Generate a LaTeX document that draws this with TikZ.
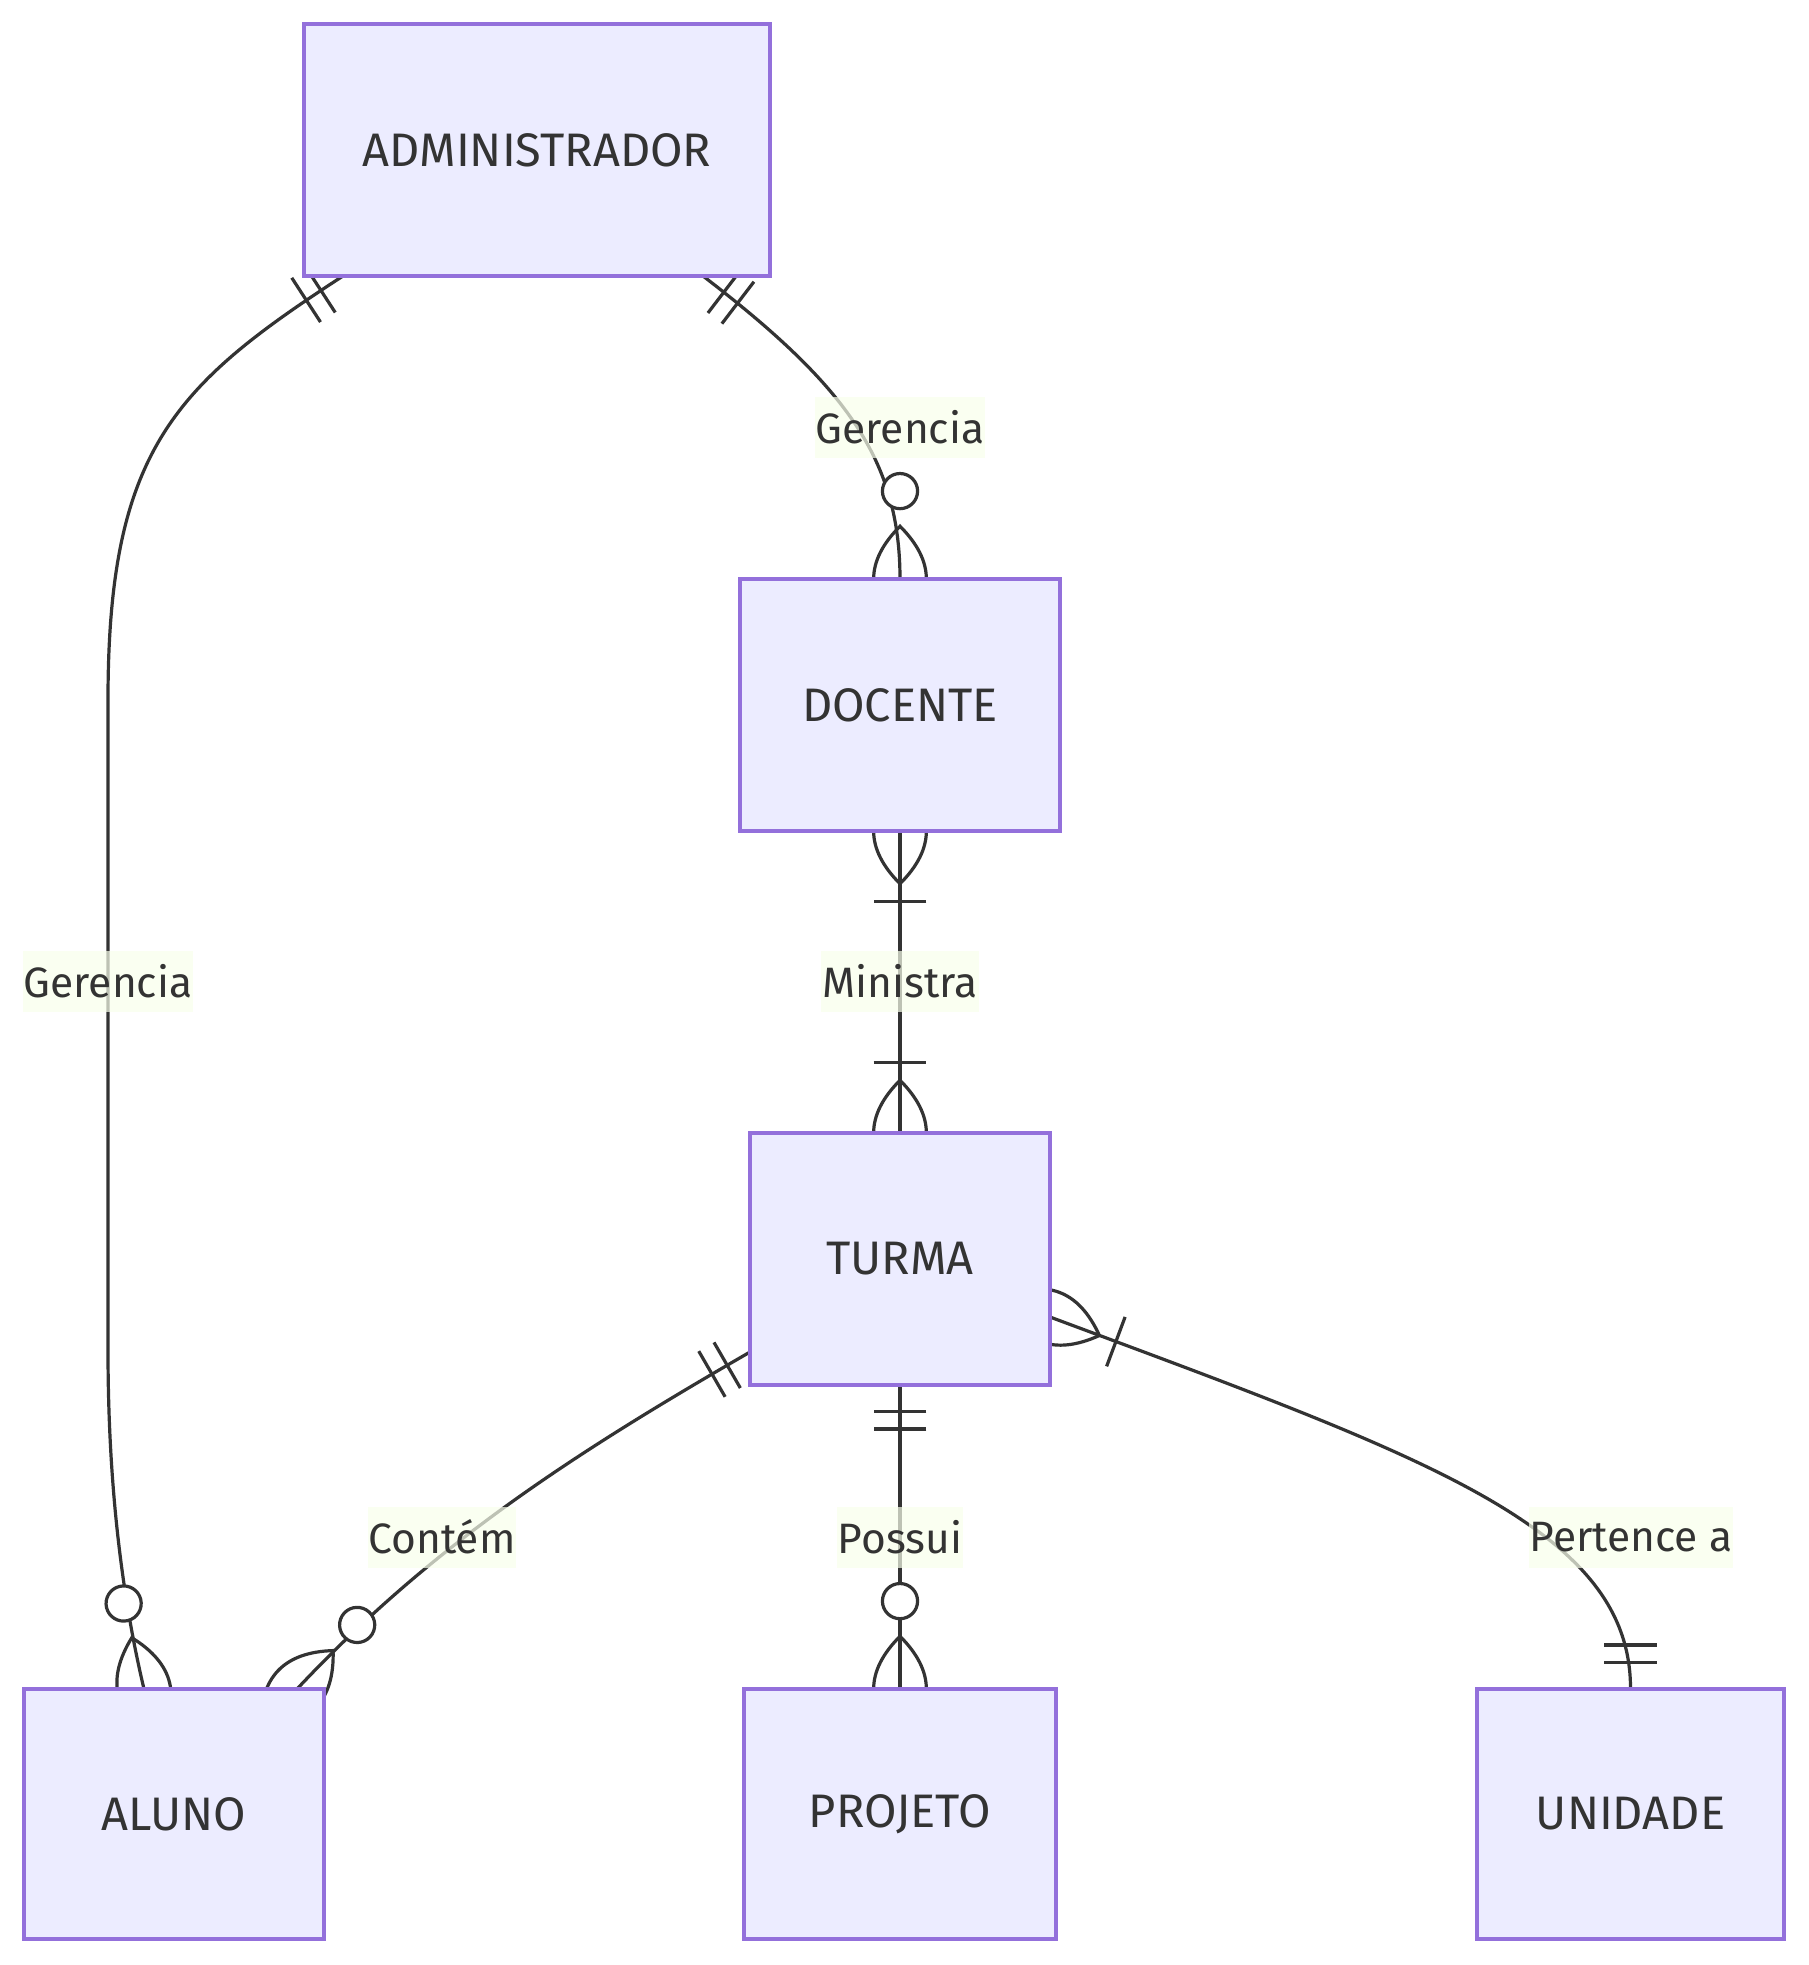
\documentclass[tikz,border=0pt]{standalone}
\usepackage{fontspec}
\setmainfont{Fira Sans}
\usetikzlibrary{calc}
\definecolor{boxfill}{HTML}{ECECFF}
\definecolor{boxdraw}{HTML}{9370DB}
\definecolor{ink}{HTML}{333333}
\definecolor{lblbg}{RGB}{249,255,236}
\pgfdeclarelayer{back}
\pgfdeclarelayer{edges}
\pgfsetlayers{back,edges,main}
\tikzset{
 entity/.style={draw=boxdraw, fill=boxfill, line width=3.3pt, inner sep=0pt, outer sep=0pt, text=ink, font=\fontsize{47}{56}\selectfont},
 erline/.style={draw=ink, line width=3.2pt},
 rel/.style={fill=lblbg, fill opacity=0.7, text opacity=1, text=ink, font=\fontsize{42.5}{50}\selectfont, inner xsep=1pt, inner ysep=0pt, minimum height=61pt, outer sep=0pt},
}
\newcommand{\mkone}[2]{%
 \begin{scope}[shift={#1},rotate=#2,scale=2.93]
   \draw[erline] (9,-9) -- (9,9) (15,-9) -- (15,9);
 \end{scope}}
\newcommand{\mkmany}[2]{%
 \begin{scope}[shift={#1},rotate=#2,scale=2.93]
   \draw[erline] (-18,0) .. controls (-6,-12) and (6,-12) .. (18,0) .. controls (6,12) and (-6,12) .. cycle;
   \draw[erline] (24,-9) -- (24,9);
 \end{scope}}
\newcommand{\mkzero}[2]{%
 \begin{scope}[shift={#1},rotate=#2,scale=2.93]
   \draw[erline] (-18,0) .. controls (-6,-12) and (6,-12) .. (18,0) .. controls (6,12) and (-6,12) .. cycle;
   \draw[erline,fill=white] (30,0) circle[radius=6];
 \end{scope}}
\begin{document}
\begin{tikzpicture}[x=1pt,y=-1pt]
\begin{pgfonlayer}{back}
\fill[white] (0,0) rectangle (1809,1965);
\end{pgfonlayer}
\useasboundingbox (0,0) rectangle (1809,1965);
% entities
\node[entity, minimum width=466pt, minimum height=252pt] (adm) at (537,150) {ADMINISTRADOR};
\node[entity, minimum width=320pt, minimum height=252pt] (doc) at (900,705) {DOCENTE};
\node[entity, minimum width=300pt, minimum height=252pt] (tur) at (900,1259) {TURMA};
\node[entity, minimum width=300pt, minimum height=250pt] (alu) at (174,1814) {ALUNO};
\node[entity, minimum width=312pt, minimum height=250pt] (pro) at (900,1814) {PROJETO};
\node[entity, minimum width=307pt, minimum height=250pt] (uni) at (1630.5,1814) {UNIDADE};
% connector ends
\coordinate (e1s) at ($(adm.south west)+(39,0)$);
\coordinate (e1e) at ($(alu.north west)+(120,0)$);
\coordinate (e2s) at ($(adm.south east)+(-67,0)$);
\coordinate (e4s) at ($(tur.south west)+(0,-33)$);
\coordinate (e4e) at ($(alu.north west)+(273,0)$);
\coordinate (e6s) at ($(tur.east)+(0,58)$);
\begin{pgfonlayer}{edges}
\draw[erline] (e1s) .. controls (175,385) and (108,450) .. (108,700) -- (108,1350) .. controls (108,1480) and (121,1592) .. (e1e);
\draw[erline] (e2s) .. controls (845,385) and (900,459) .. (doc.north);
\draw[erline] (doc.south) -- (tur.north);
\draw[erline] (e4s) .. controls (577,1452) and (434,1543) .. (e4e);
\draw[erline] (tur.south) -- (pro.north);
\draw[erline] (e6s) .. controls (1426,1457) and (1631,1528) .. (uni.north);
% markers
\mkone{(e1s)}{213}
\mkzero{(e1e)}{103.4}
\mkone{(e2s)}{322.6}
\mkzero{(doc.north)}{90}
\mkmany{(doc.south)}{270}
\mkmany{(tur.north)}{90}
\mkone{(e4s)}{210}
\mkzero{(e4e)}{46.8}
\mkone{(tur.south)}{270}
\mkzero{(pro.north)}{90}
\mkmany{(e6s)}{339.5}
\mkone{(uni.north)}{90}
% labels
\node[rel] (l1) at (108,981) {Gerencia};
\node[rel] (l2) at (900,427) {Gerencia};
\node[rel] (l3) at (900,981) {Ministra};
\node[rel] (l4) at (442,1537) {Contém};
\node[rel] (l5) at (900,1537) {Possui};
\node[rel] (l6) at (1631,1537) {Pertence a};
\end{pgfonlayer}
\end{tikzpicture}
\end{document}
